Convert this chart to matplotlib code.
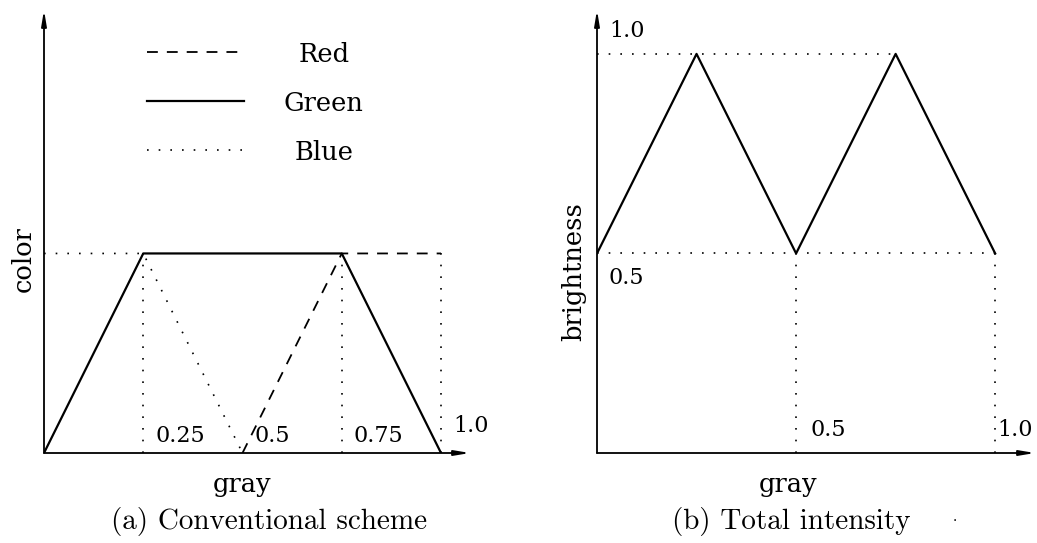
import numpy as np
import matplotlib.pyplot as plt

# (a) conventional scheme: one channel per colour, plateau at full colour
gray_a = [0.0, 0.25, 0.5, 0.75, 1.0]
green = [0.0, 1.0, 1.0, 0.0]
green_x = [0.0, 0.25, 0.75, 1.0]
red_x = [0.5, 0.75, 1.0]
red = [0.0, 1.0, 1.0]
blue_x = [0.0, 0.25, 0.5]
blue = [1.0, 1.0, 0.0]
ticks_a = ["0.25", "0.5", "0.75", "1.0"]
legend_names = ["Red", "Green", "Blue"]

# (b) total intensity, a triangle wave between 0.5 and 1.0
gray_b = [0.0, 0.25, 0.5, 0.75, 1.0]
bright = [0.5, 1.0, 0.5, 1.0, 0.5]

W, H = 1037, 543
fig = plt.figure(figsize=(W / 100, H / 100), dpi=100)
serif = "DejaVu Serif"
cm = "cmr10"
fs = 16      # numbers
fl = 18.5    # axis words
fc = 21      # captions


def px_axes(l, r, t, b):
    return fig.add_axes([l / W, 1 - b / H, (r - l) / W, (b - t) / H])


def arrows(ax, xmax, ymax):
    kw = dict(arrowstyle="-|>,head_length=0.9,head_width=0.15", color="k",
              lw=1.3, shrinkA=0, shrinkB=0)
    ax.annotate("", xy=(xmax, 0), xytext=(0, 0), arrowprops=kw, annotation_clip=False)
    ax.annotate("", xy=(0, ymax), xytext=(0, 0), arrowprops=kw, annotation_clip=False)


dot = dict(color="k", lw=1.2, ls=(0, (1, 6)))
solid = dict(color="k", lw=1.6)
dash = dict(color="k", lw=1.3, ls=(0, (6, 5)))

# ---- panel (a)
ax = px_axes(44, 470, 10, 453)
xa, ya = 1.073, 2.22
ax.set_xlim(0, xa)
ax.set_ylim(0, ya)
ax.axis("off")
arrows(ax, xa, ya)

ax.plot(green_x, green, **solid)
ax.plot(red_x, red, **dash)
ax.plot(blue_x, blue, **dot)
for g in gray_a[1:]:
    if g != 0.5:
        ax.plot([g, g], [0, 1], **dot)
for g, lab in zip(gray_a[1:], ticks_a):
    yoff = 0.08 if lab == "1.0" else 0.03
    ax.text(g + 0.03, yoff, lab, fontsize=fs, family=serif, ha="left", va="bottom")

leg_y = [2.01, 1.765, 1.52]
for yy, name, st in zip(leg_y, legend_names, [dash, solid, dot]):
    ax.plot([0.26, 0.505], [yy, yy], **st)
    ax.text(0.705, yy - 0.015, name, fontsize=fl, family=serif, ha="center", va="center")

ax.text(-0.052, 0.97, "color", rotation=90, fontsize=fl, family=serif,
        ha="center", va="center")
ax.text(0.5, -0.16, "gray", fontsize=fl, family=serif, ha="center", va="center")
fig.text(269 / W, 1 - 522 / H, "(a) Conventional scheme", fontsize=fc, family=cm,
         ha="center", va="center")

# ---- panel (b)
ax = px_axes(597, 1035, 10, 453)
xb, yb = 1.10, 1.11
ax.set_xlim(0, xb)
ax.set_ylim(0, yb)
ax.axis("off")
arrows(ax, xb, yb)

ax.plot(gray_b, bright, **solid)
ax.plot([0, 0.75], [1.0, 1.0], **dot)
ax.plot([0, 1.0], [0.5, 0.5], **dot)
for g in (0.5, 1.0):
    ax.plot([g, g], [0, 0.5], **dot)
ax.text(0.03, 1.0 + 0.03, "1.0", fontsize=fs, family=serif, ha="left", va="bottom")
ax.text(0.03, 0.5 - 0.035, "0.5", fontsize=fs, family=serif, ha="left", va="top")
ax.text(0.535, 0.03, "0.5", fontsize=fs, family=serif, ha="left", va="bottom")
ax.text(1.005, 0.03, "1.0", fontsize=fs, family=serif, ha="left", va="bottom")

ax.text(-0.058, 0.455, "brightness", rotation=90, fontsize=fl, family=serif,
        ha="center", va="center")
ax.text(0.48, -0.08, "gray", fontsize=fl, family=serif, ha="center", va="center")
fig.text(791 / W, 1 - 522 / H, "(b) Total intensity", fontsize=fc, family=cm,
         ha="center", va="center")
fig.text(955 / W, 1 - 521 / H, "·", fontsize=10, family=serif, ha="center", va="center")

fig.savefig("out.png", dpi=100, facecolor="white")
